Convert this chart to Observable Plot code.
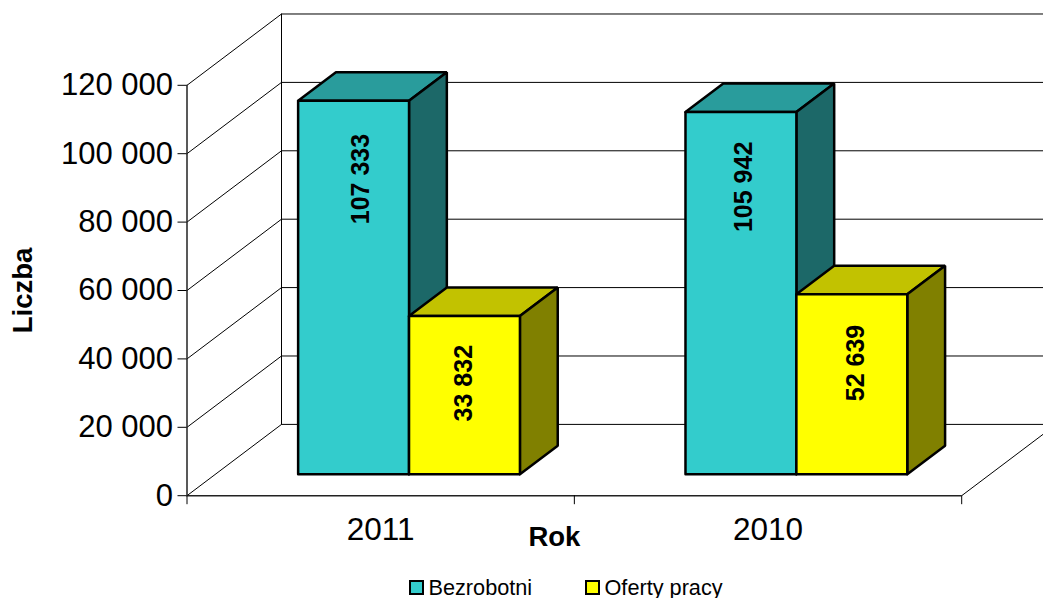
<!DOCTYPE html>
<html lang="pl">
<head>
<meta charset="utf-8">
<script src="https://cdn.jsdelivr.net/npm/d3@7"></script>
<script src="https://cdn.jsdelivr.net/npm/@observablehq/plot@0.6"></script>
<style>
  html, body { margin: 0; padding: 0; background: #fff; overflow: hidden; width: 1043px; height: 598px; }
  body { font-family: "Liberation Sans", Arial, sans-serif; color: #000; }
  #chart svg { display: block; }
  #legend { position: relative; height: 26px; font-size: 21.7px; line-height: 24px; }
  .item { position: absolute; top: 4px; display: flex; align-items: center; white-space: nowrap; }
  .sw { width: 11px; height: 11px; border: 2px solid #000; margin-right: 4.5px; flex: none; position: relative; top: -1px; }
</style>
</head>
<body>
<div id="chart"></div>
<div id="legend"></div>
<script>
// Data
const categories = ["2011", "2010"];
const seriesNames = ["Bezrobotni", "Oferty pracy"];
// Drawn heights of the bars (the reference's 2011 bars do not match their printed labels)
const bezrobotniHeights = [109240, 105942];
const ofertyHeights = [46290, 52639];
// Printed value labels
const bezrobotniLabels = ["107 333", "105 942"];
const ofertyLabels = ["33 832", "52 639"];
// Level on the value axis at which each printed label sits
const bezrobotniLabelLevels = [92600, 90300];
const ofertyLabelLevels = [32900, 38800];
// Sideways shift of each printed label from its bar's centre, in category widths
const bezrobotniLabelShift = [0.018, 0.008];
const ofertyLabelShift = [0, 0.01];
const yTicks = [0, 20000, 40000, 60000, 80000, 100000, 120000];
const xTicks = [0, 1, 2];
const frontColors = ["#33CCCC", "#FFFF00"];
const topColors = ["#299C9C", "#C2C200"];
const sideColors = ["#1C6868", "#808000"];

// Oblique depth of the chart box, in axis units
const depthX = 0.244, depthY = 20850;
const barWidth = 0.2863;
const barGap = (1 - 2 * barWidth) / 2;
const baseX = depthX * 0.3, baseY = depthY * 0.3;
const barDX = depthX * 0.4, barDY = depthY * 0.4;

const fmt = d3.formatLocale({decimal: ",", thousands: " ", grouping: [3], currency: ["", ""]}).format(",d");

const heights = [bezrobotniHeights, ofertyHeights];
const labels = [bezrobotniLabels, ofertyLabels];
const labelLevels = [bezrobotniLabelLevels, ofertyLabelLevels];
const labelShift = [bezrobotniLabelShift, ofertyLabelShift];

// Faces of each bar, back to front
const faces = [];
categories.forEach((cat, c) => {
  seriesNames.forEach((name, s) => {
    const x0 = c + barGap + s * barWidth + baseX, x1 = x0 + barWidth;
    const y0 = baseY, y1 = baseY + heights[s][c];
    const add = (face, fill, pts) =>
      [...pts, pts[0]].forEach(([x, y]) => faces.push({id: `${cat}-${name}-${face}`, fill, x, y}));
    add("top", topColors[s], [[x0, y1], [x1, y1], [x1 + barDX, y1 + barDY], [x0 + barDX, y1 + barDY]]);
    add("side", sideColors[s], [[x1, y0], [x1 + barDX, y0 + barDY], [x1 + barDX, y1 + barDY], [x1, y1]]);
    add("front", frontColors[s], [[x0, y0], [x1, y0], [x1, y1], [x0, y1]]);
  });
});

// Box: side wall and back wall grid lines
const grid = yTicks.flatMap(v => [
  {id: v, x: 0, y: v},
  {id: v, x: depthX, y: v + depthY},
  {id: v, x: 2 + depthX + 0.1, y: v + depthY}
]);
const walls = [
  {id: "back", x: depthX, y: depthY},
  {id: "back", x: depthX, y: 120000 + depthY},
  {id: "floor", x: 2, y: 0},
  {id: "floor", x: 2 + depthX, y: depthY}
];

const labelRows = categories.flatMap((cat, c) => seriesNames.map((name, s) => ({
  x: c + barGap + s * barWidth + baseX + barWidth / 2 + labelShift[s][c],
  y: labelLevels[s][c],
  text: labels[s][c]
})));

const chart = Plot.plot({
  width: 1043,
  height: 572,
  marginLeft: 186.5,
  marginRight: 81.8,
  marginTop: 84.8,
  marginBottom: 76.8,
  style: {fontFamily: "'Liberation Sans', Arial, sans-serif", background: "#fff", color: "#000", overflow: "hidden"},
  x: {domain: [0, 2]},
  y: {domain: [0, 120000]},
  color: {type: "identity"},
  marks: [
    Plot.line(grid, {x: "x", y: "y", z: "id", stroke: "#000", strokeWidth: 1}),
    Plot.line(walls, {x: "x", y: "y", z: "id", stroke: "#000", strokeWidth: 1}),
    Plot.ruleY([0], {stroke: "#222", strokeWidth: 1.5}),
    Plot.ruleX([0], {stroke: "#222", strokeWidth: 1.5}),
    Plot.axisY(yTicks, {tickFormat: fmt, tickSize: 9, tickPadding: 5, fontSize: 31, label: null}),
    Plot.axisX(xTicks, {tickFormat: () => "", tickSize: 9, label: null}),
    Plot.line(faces, {x: "x", y: "y", z: "id", fill: "fill", stroke: "#000", strokeWidth: 2.5, strokeLinejoin: "miter"}),
    Plot.text(labelRows, {x: "x", y: "y", text: "text", rotate: -90, fontSize: 25, fontWeight: "bold", fill: "#000"}),
    Plot.text(categories, {x: (d, i) => i + 0.5, y: 0, text: d => d, dy: 34, fontSize: 31.5, fill: "#000"}),
    Plot.text(["Rok"], {x: 1, y: 0, text: d => d, dx: -20, dy: 41, fontSize: 27.5, fontWeight: "bold", fill: "#000"}),
    Plot.text(["Liczba"], {x: 0, y: 60000, text: d => d, dx: -164, rotate: -90, fontSize: 27.5, fontWeight: "bold", fill: "#000"})
  ]
});
document.getElementById("chart").append(chart);

const legendLeft = [409, 585];
const legend = document.getElementById("legend");
seriesNames.forEach((name, i) => {
  const item = document.createElement("div");
  item.className = "item";
  item.style.left = legendLeft[i] + "px";
  const sw = document.createElement("span");
  sw.className = "sw";
  sw.style.background = frontColors[i];
  item.append(sw, document.createTextNode(name));
  legend.append(item);
});
</script>
</body>
</html>
